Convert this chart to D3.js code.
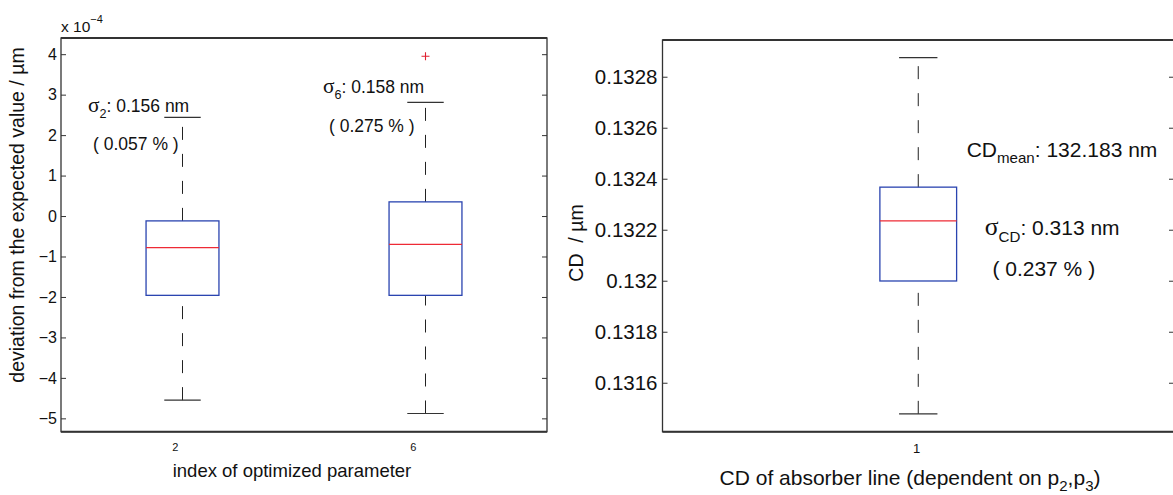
<!DOCTYPE html>
<html>
<head>
<meta charset="utf-8">
<script src="https://cdn.jsdelivr.net/npm/d3@7"></script>
<style>
  body { margin: 0; background: #fff; }
  svg { font-family: "Liberation Sans", Arial, Helvetica, sans-serif; }
  .tick line { stroke: #333; }
  .tick text { fill: #111; }
</style>
</head>
<body>
<svg id="chart" width="1173" height="495"></svg>
<script>
// left panel, values in units of 1e-4 um
const leftLabels = ["2", "6"];
const leftLabelPos = [0.97, 1.95];
const leftLower = [-4.55, -4.88];
const leftQ1 = [-1.96, -1.96];
const leftMedian = [-0.78, -0.70];
const leftQ3 = [-0.12, 0.35];
const leftUpper = [2.44, 2.81];
const leftOutliers = [[], [3.95]];
const leftTicks = [-5, -4, -3, -2, -1, 0, 1, 2, 3, 4];

// right panel, values in um
const rightLabels = ["1"];
const rightLabelPos = [0.997];
const rightLower = [0.131478];
const rightQ1 = [0.131999];
const rightMedian = [0.132235];
const rightQ3 = [0.132367];
const rightUpper = [0.132875];
const rightOutliers = [[]];
const rightTicks = [0.1316, 0.1318, 0.132, 0.1322, 0.1324, 0.1326, 0.1328];

// text annotations (data coordinates)
const leftNotes = [
  { x: 0.611, y: 2.57, parts: [["σ", "serif"], ["2", "sub"], [": 0.156 nm", ""]] },
  { x: 0.632, y: 1.63, parts: [["( 0.057 % )", ""]] },
  { x: 1.578, y: 3.04, parts: [["σ", "serif"], ["6", "sub"], [": 0.158 nm", ""]] },
  { x: 1.603, y: 2.07, parts: [["( 0.275 % )", ""]] }
];
const rightNotes = [
  { x: 1.0946, y: 0.132487, parts: [["CD", ""], ["mean", "sub"], [": 132.183 nm", ""]] },
  { x: 1.130, y: 0.13218, parts: [["σ", "serif"], ["CD", "sub"], [": 0.313 nm", ""]] },
  { x: 1.145, y: 0.132017, parts: [["( 0.237 % )", ""]] }
];

const svg = d3.select("#chart");

const xL = d3.scaleLinear().domain([0.5, 2.5]).range([61, 547]);
const yL = d3.scaleLinear().domain([-5.33, 4.40]).range([431.7, 38]);
const xR = d3.scaleLinear().domain([0.5, 1.5]).range([662.5, 1174]);
const yR = d3.scaleLinear().domain([0.131408, 0.132944]).range([431.7, 40]);

function addRich(g, note, x, y, size) {
  const t = g.append("text")
    .attr("x", x(note.x))
    .attr("y", y(note.y))
    .style("font-size", size + "px")
    .style("white-space", "pre")
    .attr("fill", "#111");
  let shifted = 0;
  note.parts.forEach(p => {
    const ts = t.append("tspan").text(p[0]);
    if (p[1] === "serif") {
      ts.style("font-family", "'Liberation Serif', 'Times New Roman', serif")
        .style("font-size", (size * 1.22) + "px");
    }
    if (p[1] === "sub") {
      ts.attr("dy", size * 0.32 - shifted).style("font-size", (size * 0.72) + "px");
      shifted = size * 0.32;
    } else if (shifted) {
      ts.attr("dy", -shifted);
      shifted = 0;
    }
  });
}

function drawPanel(o) {
  const g = svg.append("g");
  const [x0, x1] = o.x.range();
  const [y1, y0] = o.y.range();

  // y ticks, both sides, inward
  const axL = g.append("g")
    .attr("transform", `translate(${x0},0)`)
    .call(d3.axisLeft(o.y).tickValues(o.ticks).tickSize(-5).tickPadding(o.pad).tickFormat(o.fmt));
  axL.select(".domain").remove();
  axL.selectAll("text").style("font-size", o.tickFont + "px").style("font-family", "'Liberation Sans', Arial, sans-serif");

  const axR = g.append("g")
    .attr("transform", `translate(${x1},0)`)
    .call(d3.axisRight(o.y).tickValues(o.ticks).tickSize(-5).tickFormat(""));
  axR.select(".domain").remove();

  // frame
  g.append("rect")
    .attr("x", x0).attr("y", y0)
    .attr("width", x1 - x0).attr("height", y1 - y0)
    .attr("fill", "none").attr("stroke", "#333").attr("stroke-width", 1.3);
  g.append("line").attr("x1", x0).attr("x2", x1).attr("y1", y0).attr("y2", y0)
    .attr("stroke", "#333").attr("stroke-width", 2);
  g.append("line").attr("x1", x0).attr("x2", x1).attr("y1", y1).attr("y2", y1)
    .attr("stroke", "#333").attr("stroke-width", 2);

  // boxes
  o.labels.forEach((lab, i) => {
    const p = i + 1;
    const bx0 = o.x(p - o.half), bx1 = o.x(p + o.half);
    const cx0 = o.x(p - o.half / 2), cx1 = o.x(p + o.half / 2);
    const cx = o.x(p);

    g.append("line")
      .attr("x1", cx).attr("x2", cx)
      .attr("y1", o.y(o.lower[i])).attr("y2", o.y(o.q1[i]))
      .attr("stroke", "#222").attr("stroke-width", 1).attr("stroke-dasharray", "13,14");
    g.append("line")
      .attr("x1", cx).attr("x2", cx)
      .attr("y1", o.y(o.q3[i])).attr("y2", o.y(o.upper[i]))
      .attr("stroke", "#222").attr("stroke-width", 1).attr("stroke-dasharray", "13,14");

    [o.lower[i], o.upper[i]].forEach(v => {
      g.append("line")
        .attr("x1", cx0).attr("x2", cx1)
        .attr("y1", o.y(v)).attr("y2", o.y(v))
        .attr("stroke", "#333").attr("stroke-width", 1.2);
    });

    g.append("rect")
      .attr("x", bx0).attr("y", o.y(o.q3[i]))
      .attr("width", bx1 - bx0).attr("height", o.y(o.q1[i]) - o.y(o.q3[i]))
      .attr("fill", "none").attr("stroke", "#2a44b0").attr("stroke-width", 1.3);

    g.append("line")
      .attr("x1", bx0).attr("x2", bx1)
      .attr("y1", o.y(o.median[i])).attr("y2", o.y(o.median[i]))
      .attr("stroke", "#ee2a35").attr("stroke-width", 1.3);

    o.outliers[i].forEach(v => {
      const py = o.y(v);
      g.append("path")
        .attr("d", `M${cx - 4},${py}H${cx + 4}M${cx},${py - 4}V${py + 4}`)
        .attr("stroke", "#e02030").attr("stroke-width", 1.1);
    });

    g.append("text")
      .attr("x", o.x(o.labelPos[i]))
      .attr("y", y1 + o.labelDy)
      .attr("text-anchor", "middle")
      .style("font-size", o.labelFont + "px")
      .attr("fill", "#111")
      .text(lab);
  });

  o.notes.forEach(n => addRich(g, n, o.x, o.y, o.noteFont));
  return g;
}

const minusFmt = d => d < 0 ? "\u2212" + Math.abs(d) : String(d);

const gl = drawPanel({
  x: xL, y: yL, ticks: leftTicks, fmt: minusFmt, pad: 4, tickFont: 16,
  labels: leftLabels, labelPos: leftLabelPos, lower: leftLower, q1: leftQ1,
  median: leftMedian, q3: leftQ3, upper: leftUpper, outliers: leftOutliers,
  half: 0.15, labelDy: 19, labelFont: 11, notes: leftNotes, noteFont: 17.5
});

const gr = drawPanel({
  x: xR, y: yR, ticks: rightTicks, fmt: d => String(+d.toFixed(4)), pad: 5, tickFont: 20.5,
  labels: rightLabels, labelPos: rightLabelPos, lower: rightLower, q1: rightQ1,
  median: rightMedian, q3: rightQ3, upper: rightUpper, outliers: rightOutliers,
  half: 0.075, labelDy: 21, labelFont: 13, notes: rightNotes, noteFont: 21
});

// exponent label
const ex = svg.append("text").attr("x", 61).attr("y", 32)
  .style("font-size", "15.5px").attr("fill", "#111");
ex.append("tspan").text("x 10");
ex.append("tspan").attr("dy", -9).style("font-size", "11px").text("\u22124");

// axis titles
svg.append("text")
  .attr("x", 292).attr("y", 477).attr("text-anchor", "middle")
  .style("font-size", "18.5px").attr("fill", "#111")
  .text("index of optimized parameter");

svg.append("text")
  .attr("transform", "translate(24,215) rotate(-90)")
  .attr("text-anchor", "middle")
  .style("font-size", "19.5px").attr("fill", "#111")
  .text("deviation from the expected value / \u00b5m");

const xr = svg.append("text")
  .attr("x", 910).attr("y", 485).attr("text-anchor", "middle")
  .style("font-size", "21px").attr("fill", "#111");
xr.append("tspan").text("CD of absorber line (dependent on p");
xr.append("tspan").attr("dy", 6).style("font-size", "15px").text("2");
xr.append("tspan").attr("dy", -6).text(",p");
xr.append("tspan").attr("dy", 6).style("font-size", "15px").text("3");
xr.append("tspan").attr("dy", -6).text(")");

svg.append("text")
  .attr("transform", "translate(583,243) rotate(-90)")
  .attr("text-anchor", "middle")
  .style("font-size", "19.5px").style("white-space", "pre").attr("fill", "#111")
  .text("CD  / \u00b5m");
</script>
</body>
</html>
